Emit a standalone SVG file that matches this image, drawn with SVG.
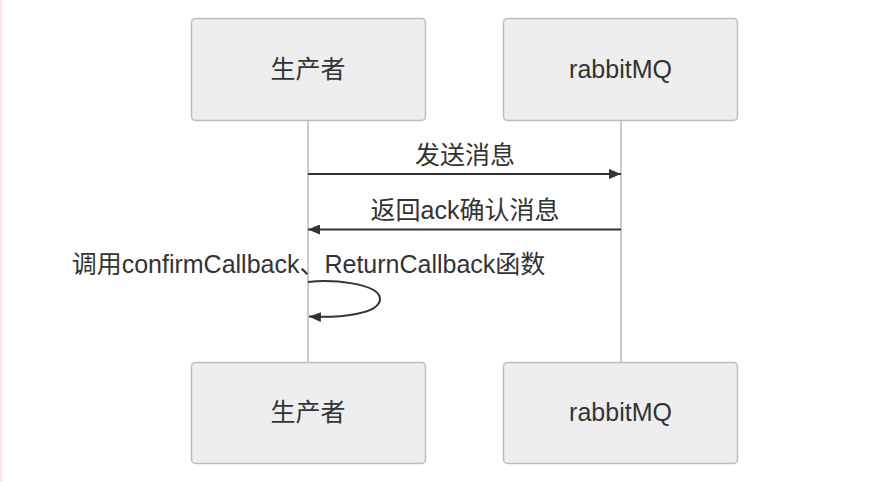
<svg xmlns="http://www.w3.org/2000/svg" width="875" height="482" viewBox="0 0 875 482">
<style>
.box{fill:#eeeeee;stroke:#bdbdbd;stroke-width:1.5}
.life{stroke:#a8a8a8;stroke-width:1.2;fill:none}
.msg{stroke:#333;stroke-width:2;fill:none}
.t{font-family:"Liberation Sans","Noto Sans CJK SC",sans-serif;fill:#333;text-anchor:middle;font-size:25px}
</style>
<defs>
<marker id="ah" viewBox="0 0 12 10" refX="12" refY="5" markerWidth="12" markerHeight="10" markerUnits="userSpaceOnUse" orient="auto">
<path d="M0,0 L12,5 L0,10 z" fill="#333"/>
</marker>
</defs>
<rect x="0" y="0" width="875" height="482" fill="#ffffff"/>
<rect x="0" y="0" width="2" height="482" fill="#ffe6e6"/>
<g id="lifelines">
<line class="life" x1="308" y1="120" x2="308" y2="362"/>
<line class="life" x1="621" y1="120" x2="621" y2="362"/>
</g>
<g id="producer-top">
<rect class="box" x="191.5" y="18.5" width="234" height="102" rx="4"/>
<text class="t" x="308" y="78">生产者</text>
</g>
<g id="rabbitmq-top">
<rect class="box" x="503.5" y="18.5" width="234" height="102" rx="4"/>
<text class="t" x="620.5" y="78">rabbitMQ</text>
</g>
<g id="producer-bottom">
<rect class="box" x="191.5" y="362.5" width="234" height="101" rx="4"/>
<text class="t" x="308" y="421">生产者</text>
</g>
<g id="rabbitmq-bottom">
<rect class="box" x="503.5" y="362.5" width="234" height="101" rx="4"/>
<text class="t" x="620.5" y="421">rabbitMQ</text>
</g>
<g id="connectors">
<line class="msg" x1="308" y1="174" x2="621" y2="174" marker-end="url(#ah)"/>
<line class="msg" x1="621" y1="229.5" x2="308" y2="229.5" marker-end="url(#ah)"/>
<path class="msg" d="M308,282 C330,279 380,283 380,299 C380,314 340,318 309,316.5" marker-end="url(#ah)"/>
</g>
<g id="labels">
<text class="t" x="465" y="164">发送消息</text>
<text class="t" x="465" y="219">返回ack确认消息</text>
<text class="t" x="308.5" y="273">调用confirmCallback、ReturnCallback函数</text>
</g>
</svg>
